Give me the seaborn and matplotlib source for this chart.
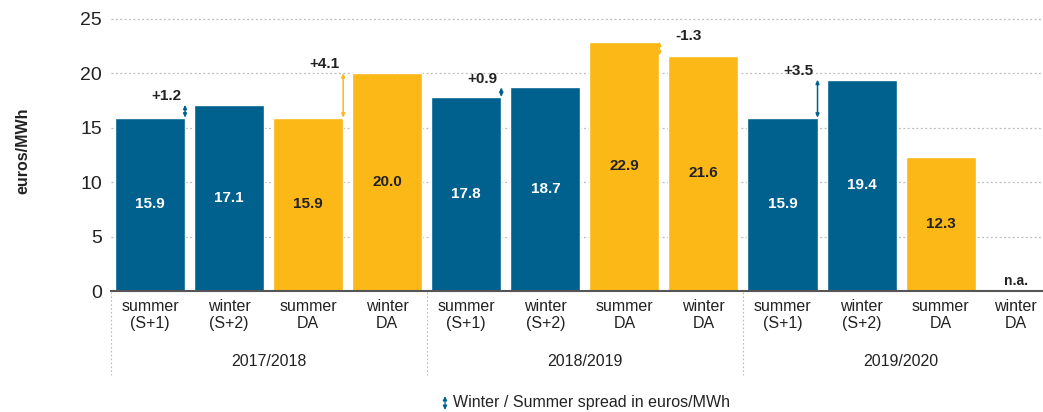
"""Summer / winter gas storage spreads, grouped bar chart."""

import matplotlib

matplotlib.use("Agg")
import matplotlib.pyplot as plt
import matplotlib.transforms as mtransforms
import numpy as np
import pandas as pd
import seaborn as sns

years = ["2017/2018", "2018/2019", "2019/2020"]
products = ["summer\n(S+1)", "winter\n(S+2)", "summer\nDA", "winter\nDA"]
kinds = ["forward", "forward", "dayahead", "dayahead"]
values = [15.9, 17.1, 15.9, 20.0,
          17.8, 18.7, 22.9, 21.6,
          15.9, 19.4, 12.3, np.nan]
spreads = [(0, 1.2), (2, 4.1), (4, 0.9), (6, -1.3), (8, 3.5)]  # (summer bar index, spread)

BLUE = "#00618f"
ORANGE = "#fbb817"
palette = {"forward": BLUE, "dayahead": ORANGE}

sns.set_style("white")
plt.rcParams["font.family"] = ["Liberation Sans Narrow", "Liberation Sans", "DejaVu Sans"]

df = pd.DataFrame({
    "slot": [str(i) for i in range(len(values))],
    "value": values,
    "kind": kinds * len(years),
})

BAR_W = 0.886

fig = plt.figure(figsize=(10.43, 4.12), dpi=100)
ax = fig.add_axes([110.5 / 1043, 1 - 291 / 412, 948.7 / 1043, 280 / 412])

sns.barplot(data=df, x="slot", y="value", hue="kind", palette=palette,
            dodge=False, width=BAR_W, legend=False, ax=ax, saturation=1)

ax.set_ylim(0, 25.7)
ax.set_yticks(range(0, 26, 5))
ax.tick_params(axis="y", labelsize=14, length=0, pad=6, colors="#222222")
ax.set_xticks([])
ax.set_xlabel("")
ax.set_ylabel("euros/MWh", fontsize=11.5, fontweight="bold", labelpad=36, color="#222222")
ax.yaxis.grid(True, linestyle=(0, (1.5, 2)), color="#bbbbbb", linewidth=0.9)
ax.set_axisbelow(True)
for s in ["left", "right", "top"]:
    ax.spines[s].set_visible(False)
ax.spines["bottom"].set_color("#555555")
ax.spines["bottom"].set_linewidth(1.5)
ax.set_xlim(-0.5, len(values) - 0.5)

# value labels inside the bars
for i, v in enumerate(values):
    if np.isnan(v):
        ax.text(i - 0.05, 0.3, "n.a.", ha="center", va="bottom", fontsize=10,
                fontweight="bold", color="#222222")
        continue
    col = "white" if kinds[i % 4] == "forward" else "#222222"
    ax.text(i, v / 2, f"{v:.1f}", ha="center", va="center", fontsize=11,
            fontweight="bold", color=col)

# winter / summer spread arrows
half = BAR_W / 2
for idx, sp in spreads:
    x = idx + half
    y0, y1 = values[idx], values[idx + 1]
    col = BLUE if kinds[idx % 4] == "forward" else ORANGE
    ax.annotate("", xy=(x, y1), xytext=(x, y0),
                arrowprops=dict(arrowstyle="<|-|>,head_length=0.22,head_width=0.1",
                                color=col, lw=1.1, shrinkA=0, shrinkB=0))
    label = f"{sp:+.1f}"
    if sp >= 0:
        ax.text(x - 0.05, max(y0, y1) + 0.15, label, ha="right", va="bottom",
                fontsize=11, fontweight="bold", color="#222222")
    else:
        ax.text(x + 0.2, max(y0, y1) - 0.1, label, ha="left", va="bottom",
                fontsize=11, fontweight="bold", color="#222222")

# category and group labels below the axis
trans = mtransforms.blended_transform_factory(ax.transData, fig.transFigure)
for i in range(len(values)):
    shift = -0.05 if i == len(values) - 1 else 0
    ax.text(i + shift, 1 - 315 / 412, products[i % 4], transform=trans, ha="center",
            va="center", fontsize=11.5, color="#222222", linespacing=1.2)
for g, year in enumerate(years):
    ax.text(g * 4 + 1.5, 1 - 362 / 412, year, transform=trans, ha="center",
            va="center", fontsize=11.5, color="#222222")
    xs = g * 4 - 0.5
    ax.plot([xs, xs], [1 - 292 / 412, 1 - 375 / 412], transform=trans,
            color="#bbbbbb", lw=0.8, linestyle=(0, (1.5, 2)), clip_on=False)

# legend
fig.patches.append(matplotlib.patches.FancyArrowPatch(
    (445 / 1043, 1 - 410 / 412), (445 / 1043, 1 - 396 / 412),
    transform=fig.transFigure, arrowstyle="<|-|>,head_length=0.25,head_width=0.12",
    color=BLUE, lw=0.9, mutation_scale=10, shrinkA=0, shrinkB=0))
fig.text(453 / 1043, 1 - 403 / 412, "Winter / Summer spread in euros/MWh",
         ha="left", va="center", fontsize=11.5, color="#222222")

fig.savefig("out.png", dpi=100)
plt.close(fig)
